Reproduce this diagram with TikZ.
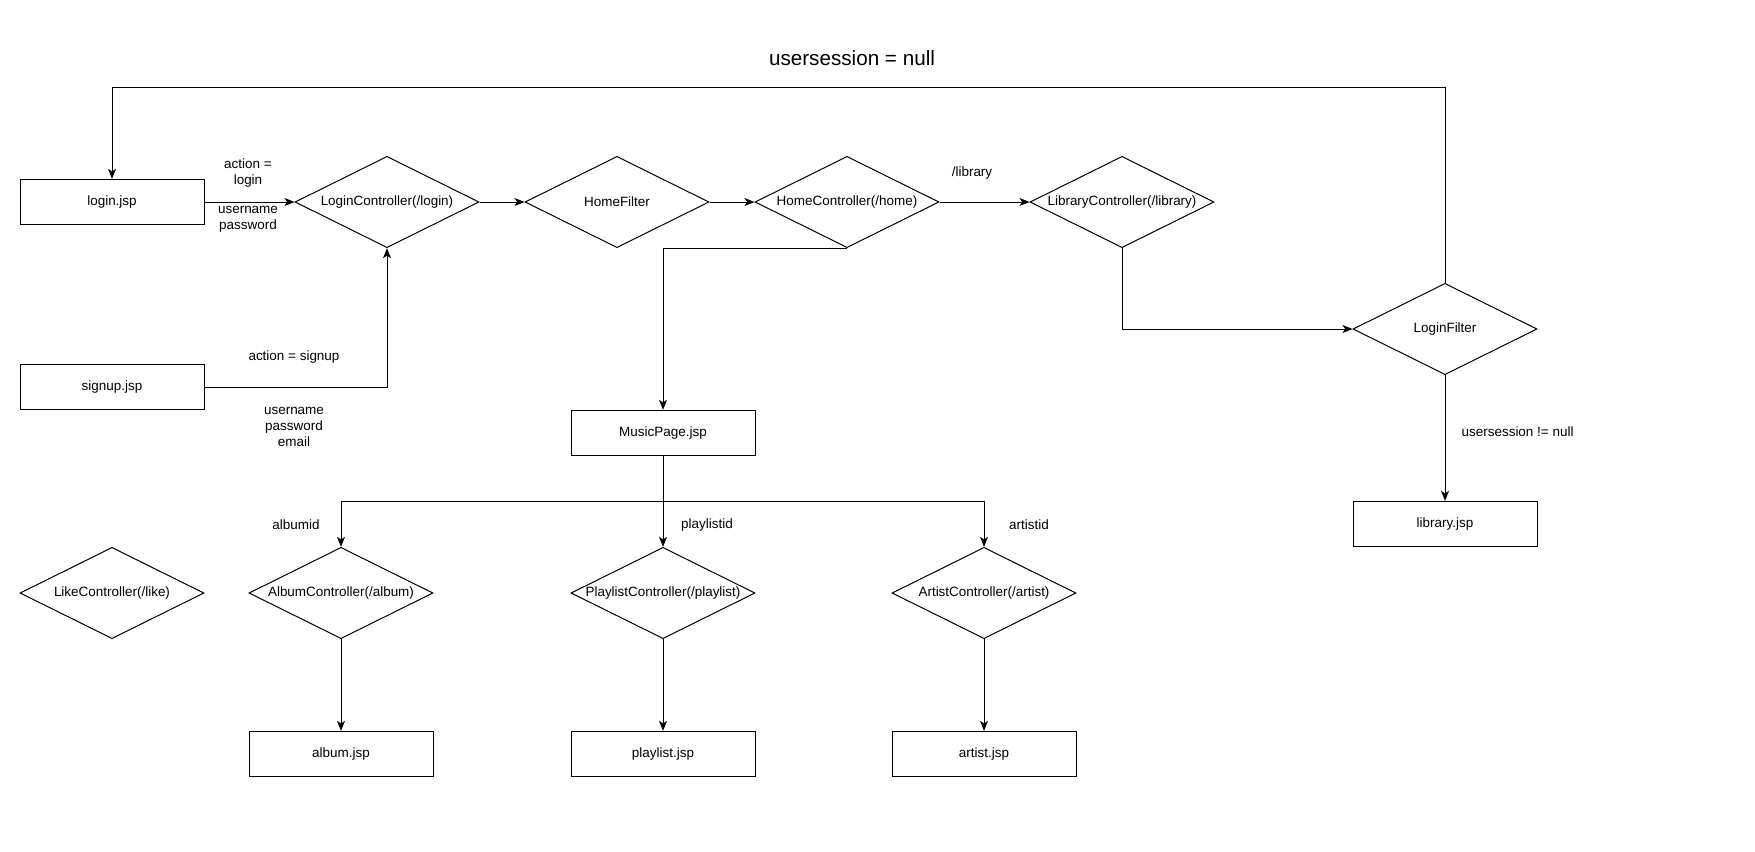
\documentclass[tikz,border=0pt]{standalone}
\usepackage{fontspec}
\setmainfont{Liberation Sans}
\usetikzlibrary{shapes.geometric,arrows.meta}
\begin{document}
\begin{tikzpicture}[x=0.75pt,y=-0.75pt,
  every node/.style={font=\fontsize{10.1}{12.2}\selectfont},
  box/.style={draw,line width=0.75pt,minimum width=138pt,minimum height=34pt,inner sep=0pt},
  dia/.style={draw,diamond,line width=0.75pt,minimum width=138pt,minimum height=68.5pt,inner sep=0pt,aspect=2},
  lbl/.style={align=center,inner sep=1pt},
  conn/.style={line width=0.75pt},
  arr/.style={conn,-{Stealth[length=7.5pt,width=6pt,inset=2pt]}}]
\useasboundingbox (0,0) rectangle (1755,851);
% title
\node[font=\fontsize{15.5}{18}\selectfont] (title) at (852,58) {usersession = null};
% nodes
\node[box] (login) at (112,202) {login.jsp};
\node[box] (signup) at (112,387) {signup.jsp};
\node[dia] (LC) at (387,202) {\makebox[0pt]{LoginController(/login)}};
\node[dia] (HF) at (617,202) {\makebox[0pt]{HomeFilter}};
\node[dia] (HC) at (847,202) {\makebox[0pt]{HomeController(/home)}};
\node[dia] (LibC) at (1122,202) {\makebox[0pt]{LibraryController(/library)}};
\node[dia] (LF) at (1445,329) {\makebox[0pt]{LoginFilter}};
\node[box] (lib) at (1445,524) {library.jsp};
\node[box] (MP) at (663,433) {MusicPage.jsp};
\node[dia] (Like) at (112,593) {\makebox[0pt]{LikeController(/like)}};
\node[dia] (AC) at (341,593) {\makebox[0pt]{AlbumController(/album)}};
\node[dia] (PC) at (663,593) {\makebox[0pt]{PlaylistController(/playlist)}};
\node[dia] (ArC) at (984,593) {\makebox[0pt]{ArtistController(/artist)}};
\node[box] (album) at (341,754) {album.jsp};
\node[box] (playlist) at (663,754) {playlist.jsp};
\node[box] (artist) at (984,754) {artist.jsp};
% coordinates
\coordinate (top) at (0,87);
\coordinate (br) at (663,501);
% connectors
\draw[arr] (login.east) -- (LC.west);
\draw[arr] (LC.east) -- (HF.west);
\draw[arr] (HF.east) -- (HC.west);
\draw[arr] (HC.east) -- (LibC.west);
\draw[arr] (signup.east) -| (LC.south);
\draw[arr] (HC.south) -| (MP.north);
\draw[arr] (LibC.south) |- (LF.west);
\draw[arr] (LF.north) -- (LF.north |- top) -| (login.north);
\draw[arr] (LF.south) -- (lib.north);
\draw[arr] (MP.south) -- (PC.north);
\draw[arr] (br) -| (AC.north);
\draw[arr] (br) -| (ArC.north);
\draw[arr] (AC.south) -- (album.north);
\draw[arr] (PC.south) -- (playlist.north);
\draw[arr] (ArC.south) -- (artist.north);
% labels
\node[lbl] (l1) at (248,173) {action =\\login};
\node[lbl] (l2) at (248,219) {username\\password};
\node[lbl] (l3) at (294,357) {action = signup};
\node[lbl] (l4) at (294,427) {username\\password\\email};
\node[lbl] (l5) at (972,173) {/library};
\node[lbl,anchor=west] (l6) at (1460,432) {usersession != null};
\node[lbl] (l7) at (296,525) {albumid};
\node[lbl] (l8) at (707,525) {playlistid};
\node[lbl] (l9) at (1029,525) {artistid};
\end{tikzpicture}
\end{document}
